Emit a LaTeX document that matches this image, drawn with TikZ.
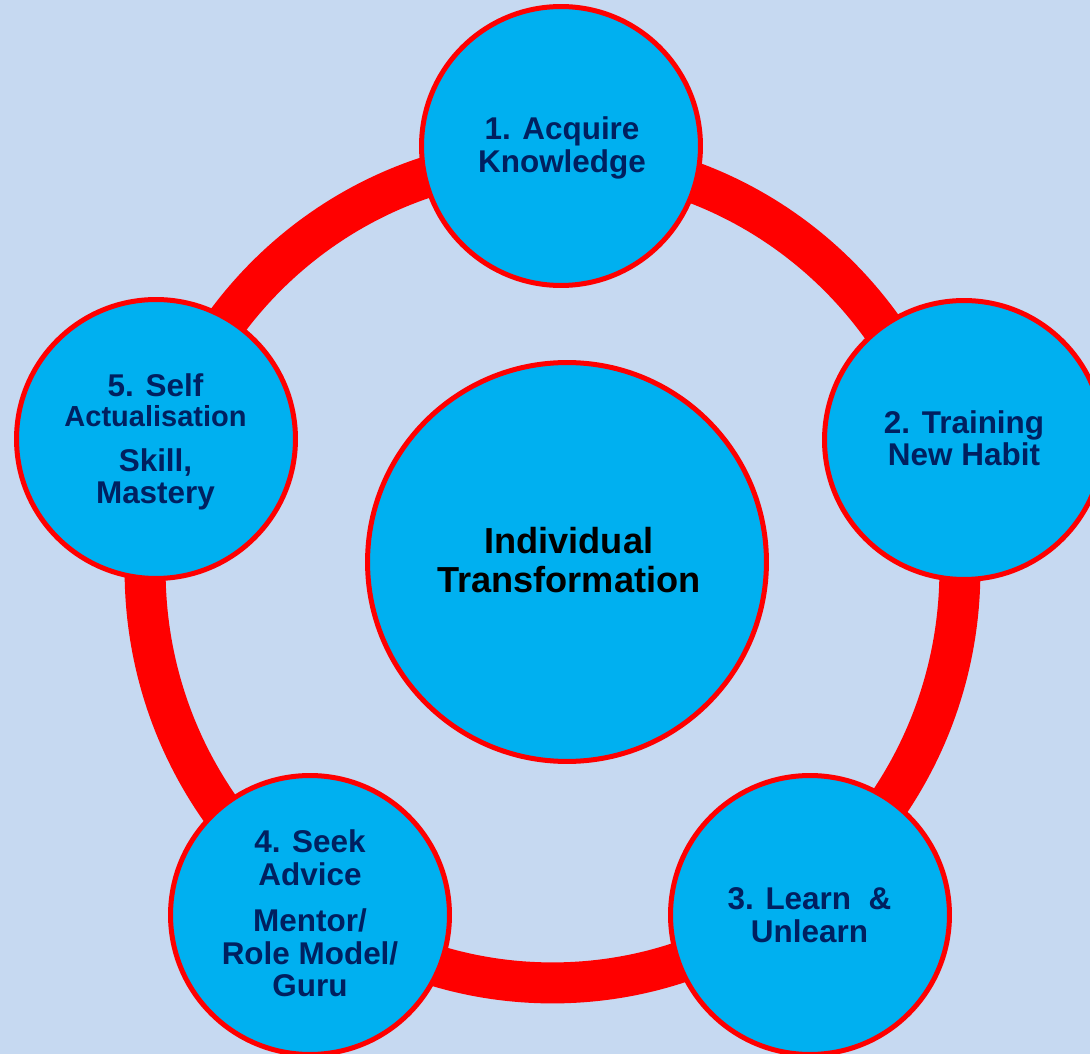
\documentclass[tikz,border=0pt]{standalone}
\usepackage{fontspec}
\setmainfont{Liberation Sans}
\definecolor{pagebg}{HTML}{C6D9F1}
\definecolor{ringred}{HTML}{FF0000}
\definecolor{stagefill}{HTML}{00B0F0}
\definecolor{labelnavy}{HTML}{002060}
\begin{document}
\begin{tikzpicture}[x=0.02cm,y=-0.02cm,
  stage/.style={circle, draw=ringred, fill=stagefill, line width=0.1cm,
    minimum size=5.58cm, inner sep=0pt},
  hubcircle/.style={stage, minimum size=7.98cm},
  cycle ring/.style={draw=ringred, line width=0.82cm},
  lbl/.style={anchor=base, inner sep=0pt, text=labelnavy,
    font=\bfseries\fontsize{17.9}{20}\selectfont},
  smalllbl/.style={lbl, font=\bfseries\fontsize{16.5}{19}\selectfont},
  hublbl/.style={anchor=base, inner sep=0pt, text=black,
    font=\bfseries\fontsize{20.6}{23}\selectfont}]

% page background and frame
\fill[pagebg] (0,0) rectangle (1090,1054);
\useasboundingbox (0,0) rectangle (1090,1054);

% the cycle ring joining the five stages
\coordinate (ringc) at (552.5,570);
\draw[cycle ring] (ringc) ellipse [x radius=8.15cm, y radius=8.26cm];

% central circle
\node[hubcircle] (hub) at (567,562) {};

% the five stages
\node[stage] (s1) at (561,146) {};
\node[stage] (s2) at (964,440) {};
\node[stage] (s3) at (810,915) {};
\node[stage] (s4) at (310,915) {};
\node[stage] (s5) at (156,439) {};

% central text
\node[hublbl] (hubA) at (568.8,554) {Individual};
\node[hublbl] (hubB) at (568.8,592.7) {Transformation};

% stage 1
\node[lbl] (s1a) at (562,139.3) {1. Acquire};
\node[lbl] (s1b) at (562,172.7) {Knowledge};

% stage 2
\node[lbl] (s2a) at (964,433.3) {2. Training};
\node[lbl] (s2b) at (964,466) {New Habit};

% stage 3
\node[lbl] (s3a) at (809.5,909.3) {3. Learn\ \ \&};
\node[lbl] (s3b) at (809.5,942.7) {Unlearn};

% stage 4
\node[lbl] (s4a) at (310,852.7) {4. Seek};
\node[lbl] (s4b) at (310,885) {Advice};
\node[lbl] (s4c) at (310,931.7) {Mentor/};
\node[lbl] (s4d) at (310,964) {Role Model/};
\node[lbl] (s4e) at (310,996.7) {Guru};

% stage 5
\node[lbl] (s5a) at (155.5,396.7) {5. Self};
\node[smalllbl] (s5b) at (155.5,426.7) {Actualisation};
\node[lbl] (s5c) at (155.5,471.7) {Skill,};
\node[lbl] (s5d) at (155.5,503.3) {Mastery};
\end{tikzpicture}
\end{document}
